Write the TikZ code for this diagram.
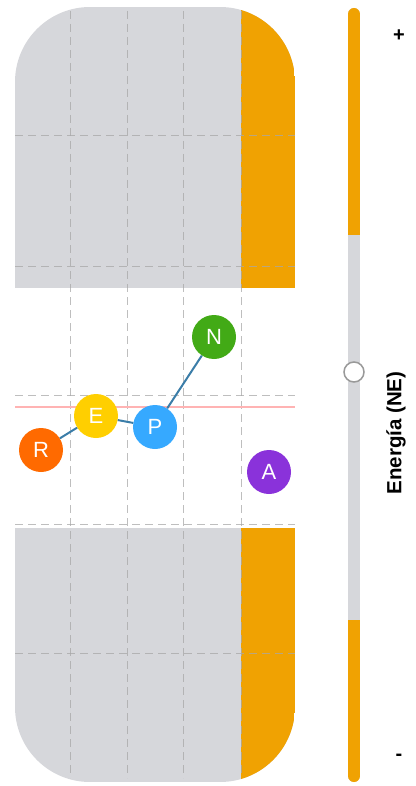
\documentclass[tikz,border=0pt]{standalone}
\usepackage{fontspec}
\setmainfont{Liberation Sans}
\definecolor{panelgrey}{HTML}{D6D7DB}
\definecolor{barorange}{HTML}{F0A202}
\definecolor{gridgrey}{HTML}{A8A8A8}
\definecolor{bondblue}{HTML}{3B7DA8}
\definecolor{levelpink}{HTML}{FFB3B3}
\definecolor{colR}{HTML}{FF6A00}
\definecolor{colE}{HTML}{FFCF00}
\definecolor{colP}{HTML}{36A9FF}
\definecolor{colN}{HTML}{42AA16}
\definecolor{colA}{HTML}{8A32DA}
\tikzset{
  atom/.style={circle,minimum size=44pt,inner sep=0pt,text=white,font=\fontsize{22}{24}\selectfont},
  bond/.style={draw=bondblue,line width=2pt},
  gridline/.style={draw=gridgrey,draw opacity=0.75,line width=1pt,dash pattern=on 8pt off 5pt},
  sliderbar/.style={line width=12pt}
}

\begin{document}
\begin{tikzpicture}[x=1pt,y=-1pt]
  \useasboundingbox (0,0) rectangle (415,786);
  % top panel
  \begin{scope}
    \clip (15,288) -- (15,82) .. controls (15,40.6) and (48.6,7) .. (90,7)
      -- (220,7) .. controls (261.4,7) and (295,40.6) .. (295,82) -- (295,288) -- cycle;
    \fill[panelgrey] (15,7) rectangle (295,288);
    \fill[barorange] (241,7) rectangle (295,288);
  \end{scope}
  % bottom panel
  \begin{scope}
    \clip (15,528) -- (295,528) -- (295,707) .. controls (295,748.4) and (261.4,782) .. (220,782)
      -- (90,782) .. controls (48.6,782) and (15,748.4) .. (15,707) -- cycle;
    \fill[panelgrey] (15,528) rectangle (295,782);
    \fill[barorange] (241,528) rectangle (295,782);
  \end{scope}
  % grid
  \foreach \x in {70,127,183,241}
    \draw[gridline] (\x,11) -- (\x,778);
  \foreach \y in {136,266,395,524,653}
    \draw[gridline] (15,\y) -- (295,\y);
  \draw[levelpink,line width=2pt] (15,407) -- (295,407);

  % atoms
  \node[atom,fill=colR] (r) at (41,450) {R};
  \node[atom,fill=colE] (e) at (96,416) {E};
  \node[atom,fill=colP] (p) at (155,427) {P};
  \node[atom,fill=colN] (n) at (214,337) {N};
  \node[atom,fill=colA] (a) at (269,472) {A};
  \draw[bond] (r) -- (e);
  \draw[bond] (e) -- (p);
  \draw[bond] (p) -- (n);

  % energy slider
  \coordinate (bartop) at (354,14);
  \coordinate (barbot) at (354,776);
  \draw[sliderbar,panelgrey,line cap=round] (bartop) -- (barbot);
  \draw[sliderbar,barorange,line cap=round] (bartop) -- (354,200);
  \draw[sliderbar,barorange] (354,100) -- (354,235);
  \draw[sliderbar,barorange,line cap=round] (354,700) -- (barbot);
  \draw[sliderbar,barorange] (354,620) -- (354,720);
  \node[circle,draw=gray!80,fill=white,line width=1.5pt,minimum size=20pt,inner sep=0pt] (knob) at (354,372) {};
  \node[font=\bfseries\fontsize{20}{22}\selectfont] (plus) at (399,36) {+};
  \node[font=\bfseries\fontsize{20}{22}\selectfont] (minus) at (399,757) {-};
  \node[rotate=90,font=\bfseries\fontsize{20.5}{22}\selectfont] (enlabel) at (396,433) {Energía (NE)};
\end{tikzpicture}
\end{document}
